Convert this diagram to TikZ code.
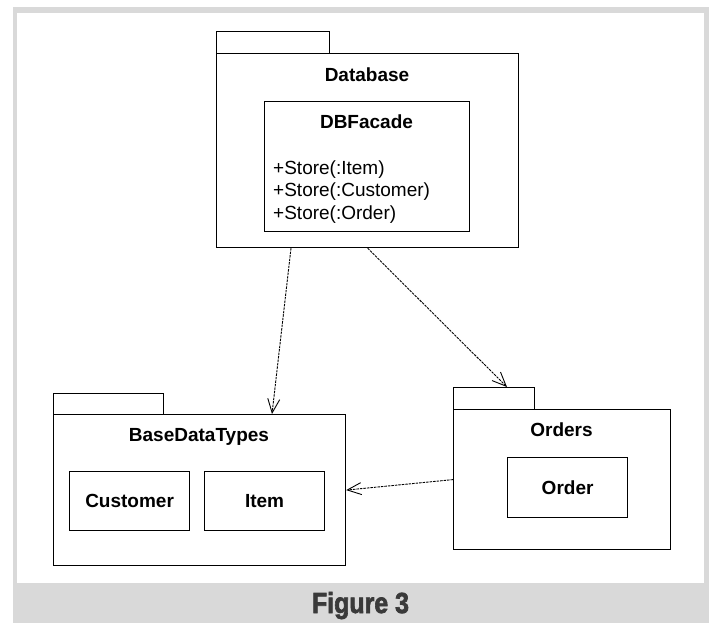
\documentclass[tikz,border=0pt]{standalone}
\usepackage{fontspec}
\setmainfont{Liberation Sans}
\newfontfamily\captionfont[FakeBold=2.5]{Liberation Sans Bold}
\usetikzlibrary{arrows.meta,calc}

\definecolor{framegrey}{RGB}{217,217,217}
\definecolor{captiontext}{RGB}{58,58,58}

\tikzset{
  box/.style={draw=black, line width=1.2pt, inner sep=0pt, anchor=north west},
  title/.style={font=\fontsize{19}{22}\bfseries\selectfont, anchor=base, inner sep=0pt},
  method/.style={font=\fontsize{19}{22}\selectfont, anchor=base west, inner sep=0pt},
  dep/.style={line width=0.9pt, dash pattern=on 2.5pt off 1pt,
    -{Straight Barb[length=14pt,width=12pt,line width=0.9pt]}}
}

\begin{document}
\begin{tikzpicture}[x=1pt,y=-1pt]
  \useasboundingbox (0,0) rectangle (712,623);

  % frame and caption band
  \fill[framegrey] (13,7) rectangle (709,623);
  \fill[white] (17,13) rectangle (704,583);
  \node[font=\fontsize{29}{30}\captionfont\selectfont, text=captiontext, anchor=base, inner sep=0pt]
    (caption) at (360.5,613) {\scalebox{0.86}[1]{Figure 3}};

  % package Database
  \node[box, minimum width=113pt, minimum height=22pt] (dbtab) at (216,31) {};
  \node[box, minimum width=302pt, minimum height=194pt] (db) at (216,53) {};
  \node[title] (dbname) at (367,81.5) {Database};
  \node[box, minimum width=205pt, minimum height=130pt] (facade) at (264,101) {};
  \node[title] (facadename) at (366.5,128.6) {DBFacade};
  \node[method] (m1) at (273,174) {+Store(:Item)};
  \node[method] (m2) at (273,196.5) {+Store(:Customer)};
  \node[method] (m3) at (273,219) {+Store(:Order)};

  % package BaseDataTypes
  \node[box, minimum width=110pt, minimum height=21pt] (bdttab) at (53,393) {};
  \node[box, minimum width=292pt, minimum height=151pt] (bdt) at (53,414) {};
  \node[title] (bdtname) at (199,441.5) {BaseDataTypes};
  \node[box, minimum width=120pt, minimum height=59pt] (customer) at (69,471) {};
  \node[title] at (customer.center) [yshift=-6.5pt] (customername) {Customer};
  \node[box, minimum width=120pt, minimum height=59pt] (item) at (204,471) {};
  \node[title] at (item.center) [yshift=-6.5pt] (itemname) {Item};

  % package Orders
  \node[box, minimum width=81pt, minimum height=22pt] (ordtab) at (453,387) {};
  \node[box, minimum width=217pt, minimum height=140pt] (ord) at (453,409) {};
  \node[title] (ordname) at (561.5,436.5) {Orders};
  \node[box, minimum width=120pt, minimum height=60pt] (order) at (507,457) {};
  \node[title] at (order.center) [yshift=-6.5pt] (ordername) {Order};

  % dependencies
  \draw[dep] ($(db.south west)+(75,0)$) -- ($(bdt.north west)+(219,0)$);
  \draw[dep] (db.south) -- ($(ordtab.north west)+(54,0)$);
  \draw[dep] (ord.west) -- (bdt.east);
\end{tikzpicture}
\end{document}
